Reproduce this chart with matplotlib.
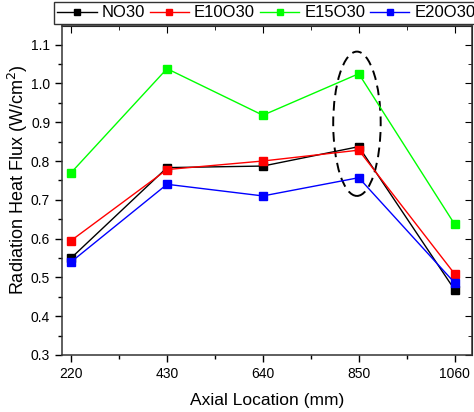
import matplotlib
matplotlib.use("Agg")
import matplotlib.pyplot as plt
from matplotlib.patches import Ellipse
from matplotlib.ticker import MultipleLocator, FixedLocator

plt.rcParams['font.family'] = ['Liberation Sans', 'DejaVu Sans']

locations = [220, 430, 640, 850, 1060]
series_names = ["NO30", "E10O30", "E15O30", "E20O30"]
no30 = [0.550, 0.783, 0.787, 0.837, 0.468]
e10o30 = [0.595, 0.778, 0.800, 0.828, 0.509]
e15o30 = [0.770, 1.038, 0.918, 1.025, 0.637]
e20o30 = [0.540, 0.740, 0.710, 0.757, 0.486]
colors = ["#000000", "#FF0000", "#00FF00", "#0000FF"]

fig = plt.figure(figsize=(4.74, 4.12), dpi=100)
ax = fig.add_axes([62/474, 1-355/412, (472-62)/474, (355-26)/412])

for vals, name, c in zip([no30, e10o30, e15o30, e20o30], series_names, colors):
    ax.plot(locations, vals, color=c, lw=1.0, marker='s', ms=5.5,
            mec=c, mfc=c, label=name)

ell = Ellipse((846, 0.896), width=104, height=0.372, fill=False,
              edgecolor='black', lw=1.4, linestyle=(0, (5, 3)))
ax.add_patch(ell)

ax.set_xlim(200, 1098)
ax.set_ylim(0.3, 1.148)
ax.set_xticks(locations)
ax.xaxis.set_minor_locator(FixedLocator([325, 535, 745, 955]))
ax.yaxis.set_major_locator(MultipleLocator(0.1))
ax.yaxis.set_minor_locator(MultipleLocator(0.05))
ax.tick_params(which='both', direction='out', labelsize=10, width=1, colors='black')
ax.tick_params(which='major', length=5)
ax.tick_params(which='minor', length=3)
for s in ax.spines.values():
    s.set_linewidth(1.1)
    s.set_color('#333333')

# mirrored ticks inward on top and right
top = ax.secondary_xaxis('top')
top.set_xticks(locations)
top.xaxis.set_minor_locator(FixedLocator([325, 535, 745, 955]))
top.tick_params(which='both', direction='in', labeltop=False)
top.tick_params(which='major', length=5)
top.tick_params(which='minor', length=3)
right = ax.secondary_yaxis('right')
right.yaxis.set_major_locator(MultipleLocator(0.1))
right.yaxis.set_minor_locator(MultipleLocator(0.05))
right.tick_params(which='both', direction='in', labelright=False)
right.tick_params(which='major', length=5)
right.tick_params(which='minor', length=3)

ax.set_xlabel("Axial Location (mm)", fontsize=12.5, labelpad=9)
ax.set_ylabel("Radiation Heat Flux (W/cm$^2$)", fontsize=13)
ax.yaxis.set_label_coords(-0.078, 0.532)

leg = fig.legend(loc='upper left', bbox_to_anchor=(54/474, 1-2/412), ncol=4,
                 fontsize=12, frameon=True, fancybox=False, edgecolor='black',
                 handlelength=2.35, handletextpad=0.3, columnspacing=0.3,
                 borderpad=0.2, borderaxespad=0, markerscale=0.85)
leg.get_frame().set_linewidth(1.0)

fig.savefig("out.png", dpi=100)
